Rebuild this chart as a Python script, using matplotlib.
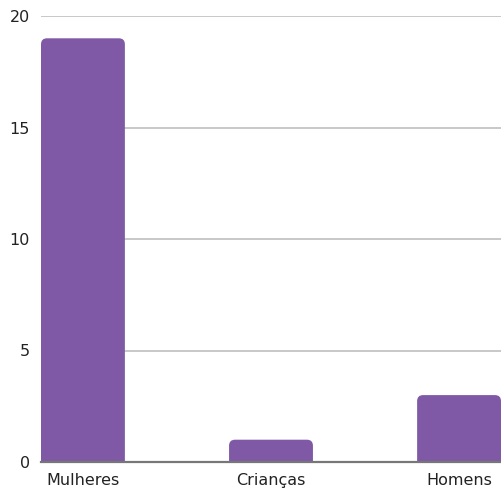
import matplotlib
matplotlib.use("Agg")
import matplotlib.pyplot as plt
from matplotlib.path import Path
from matplotlib.patches import PathPatch

categorias = ["Mulheres", "Crianças", "Homens"]
valores = [19, 1, 3]
yticks = [0, 5, 10, 15, 20]

cor = "#7f58a6"

fig = plt.figure(figsize=(5.01, 4.91), dpi=100)
ax = fig.add_axes([41 / 501, 1 - 462 / 491, 460 / 501, 446 / 491])

x = list(range(len(categorias)))
largura = 0.446
barras = ax.bar(x, valores, width=largura, color=cor, zorder=3)

ax.set_xlim(-0.223, 2.223)
ax.set_ylim(0, 20)

# cantos arredondados no topo das barras
rx, ry = 0.032, 0.27
for b in barras:
    x0, w, h = b.get_x(), b.get_width(), b.get_height()
    x1 = x0 + w
    verts = [(x0, 0), (x0, h - ry), (x0, h), (x0 + rx, h),
             (x1 - rx, h), (x1, h), (x1, h - ry), (x1, 0), (x0, 0)]
    codes = [Path.MOVETO, Path.LINETO, Path.CURVE3, Path.CURVE3,
             Path.LINETO, Path.CURVE3, Path.CURVE3, Path.LINETO, Path.CLOSEPOLY]
    ax.add_patch(PathPatch(Path(verts, codes), facecolor=cor, edgecolor="none", zorder=3))
    b.set_visible(False)

ax.set_yticks(yticks)
ax.set_xticks(x)
ax.set_xticklabels(categorias)
ax.yaxis.grid(True, color="#c8c8c8", linewidth=1.4, zorder=0)
ax.set_axisbelow(True)

for s in ["top", "right", "left"]:
    ax.spines[s].set_visible(False)
ax.spines["bottom"].set_color("#777777")
ax.spines["bottom"].set_linewidth(1.6)
ax.spines["bottom"].set_zorder(4)

ax.tick_params(axis="both", length=0, labelsize=11.5, labelcolor="#222222")
ax.tick_params(axis="y", pad=8)
ax.tick_params(axis="x", pad=8)

fig.savefig("out.png", dpi=100)
